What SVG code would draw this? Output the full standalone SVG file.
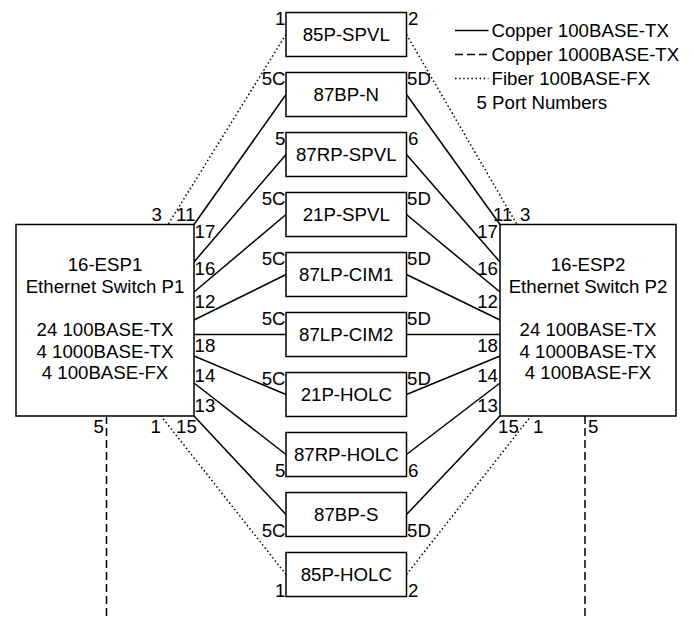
<svg xmlns="http://www.w3.org/2000/svg" width="694" height="620" viewBox="0 0 694 620">
<style>
.b{fill:#fff;stroke:#000;stroke-width:1.5}
.t{font-family:"Liberation Sans",Arial,sans-serif;font-size:18.67px;fill:#000}
.m{text-anchor:middle}
.e{text-anchor:end}
.c{stroke:#000;stroke-width:1.5;fill:none}
.d{stroke:#000;stroke-width:1.5;fill:none;stroke-dasharray:8 4}
.f{stroke:#000;stroke-width:1.5;fill:none;stroke-dasharray:1.5 2.6}
</style>
<rect width="694" height="620" fill="#fff"/>
<g id="connectors">
  <line class="f" x1="286" y1="34.5" x2="168" y2="224.5"/>
  <line class="f" x1="406.5" y1="34.5" x2="517" y2="224.5"/>
  <line class="c" x1="286" y1="94.5" x2="194" y2="224.5"/>
  <line class="c" x1="406.5" y1="94.5" x2="500" y2="224.5"/>
  <line class="c" x1="286" y1="154.5" x2="194" y2="262"/>
  <line class="c" x1="406.5" y1="154.5" x2="500" y2="262"/>
  <line class="c" x1="286" y1="214.5" x2="194" y2="292"/>
  <line class="c" x1="406.5" y1="214.5" x2="500" y2="292"/>
  <line class="c" x1="286" y1="274.5" x2="194" y2="320"/>
  <line class="c" x1="406.5" y1="274.5" x2="500" y2="320"/>
  <line class="c" x1="286" y1="334.5" x2="194" y2="334.5"/>
  <line class="c" x1="406.5" y1="334.5" x2="500" y2="334.5"/>
  <line class="c" x1="286" y1="394.5" x2="194" y2="356"/>
  <line class="c" x1="406.5" y1="394.5" x2="500" y2="356"/>
  <line class="c" x1="286" y1="454.5" x2="194" y2="383"/>
  <line class="c" x1="406.5" y1="454.5" x2="500" y2="383"/>
  <line class="c" x1="286" y1="514.5" x2="194" y2="416"/>
  <line class="c" x1="406.5" y1="514.5" x2="500" y2="416"/>
  <line class="f" x1="286" y1="574.5" x2="161" y2="416"/>
  <line class="f" x1="406.5" y1="574.5" x2="531" y2="416"/>
  <line class="d" x1="106.5" y1="416" x2="106.5" y2="620"/>
  <line class="d" x1="585" y1="416" x2="585" y2="620"/>
</g>
<g id="sw1">
  <rect class="b" x="16" y="224.5" width="178" height="191.5"/>
  <text class="t m" x="105" y="271">16-ESP1</text>
  <text class="t m" x="105" y="292.5">Ethernet Switch P1</text>
  <text class="t m" x="105" y="336">24 100BASE-TX</text>
  <text class="t m" x="105" y="357.5">4 1000BASE-TX</text>
  <text class="t m" x="105" y="379">4 100BASE-FX</text>
</g>
<g id="sw2">
  <rect class="b" x="500" y="224.5" width="176" height="191.5"/>
  <text class="t m" x="588" y="271">16-ESP2</text>
  <text class="t m" x="588" y="292.5">Ethernet Switch P2</text>
  <text class="t m" x="588" y="336">24 100BASE-TX</text>
  <text class="t m" x="588" y="357.5">4 1000BASE-TX</text>
  <text class="t m" x="588" y="379">4 100BASE-FX</text>
</g>
<g id="n85P-SPVL"><rect class="b" x="286" y="12.5" width="120.5" height="44"/><text class="t m" x="346.25" y="41.2">85P-SPVL</text></g>
<g id="n87BP-N"><rect class="b" x="286" y="72.5" width="120.5" height="44"/><text class="t m" x="346.25" y="101.2">87BP-N</text></g>
<g id="n87RP-SPVL"><rect class="b" x="286" y="132.5" width="120.5" height="44"/><text class="t m" x="346.25" y="161.2">87RP-SPVL</text></g>
<g id="n21P-SPVL"><rect class="b" x="286" y="192.5" width="120.5" height="44"/><text class="t m" x="346.25" y="221.2">21P-SPVL</text></g>
<g id="n87LP-CIM1"><rect class="b" x="286" y="252.5" width="120.5" height="44"/><text class="t m" x="346.25" y="281.2">87LP-CIM1</text></g>
<g id="n87LP-CIM2"><rect class="b" x="286" y="312.5" width="120.5" height="44"/><text class="t m" x="346.25" y="341.2">87LP-CIM2</text></g>
<g id="n21P-HOLC"><rect class="b" x="286" y="372.5" width="120.5" height="44"/><text class="t m" x="346.25" y="401.2">21P-HOLC</text></g>
<g id="n87RP-HOLC"><rect class="b" x="286" y="432.5" width="120.5" height="44"/><text class="t m" x="346.25" y="461.2">87RP-HOLC</text></g>
<g id="n87BP-S"><rect class="b" x="286" y="492.5" width="120.5" height="44"/><text class="t m" x="346.25" y="521.2">87BP-S</text></g>
<g id="n85P-HOLC"><rect class="b" x="286" y="552.5" width="120.5" height="44"/><text class="t m" x="346.25" y="581.2">85P-HOLC</text></g>
<g id="ports">
  <text class="t e" x="285.5" y="25">1</text>
  <text class="t" x="408" y="25">2</text>
  <text class="t e" x="285.5" y="85">5C</text>
  <text class="t" x="407" y="85">5D</text>
  <text class="t e" x="285.5" y="145">5</text>
  <text class="t" x="408" y="145">6</text>
  <text class="t e" x="285.5" y="205">5C</text>
  <text class="t" x="407" y="205">5D</text>
  <text class="t e" x="285.5" y="265">5C</text>
  <text class="t" x="407" y="265">5D</text>
  <text class="t e" x="285.5" y="325">5C</text>
  <text class="t" x="407" y="325">5D</text>
  <text class="t e" x="285.5" y="385">5C</text>
  <text class="t" x="407" y="385">5D</text>
  <text class="t e" x="285.5" y="476.5">5</text>
  <text class="t" x="408" y="476.5">6</text>
  <text class="t e" x="285.5" y="536.5">5C</text>
  <text class="t" x="407" y="536.5">5D</text>
  <text class="t e" x="285.5" y="596.5">1</text>
  <text class="t" x="408" y="596.5">2</text>
  <text class="t e" x="162" y="220.5">3</text>
  <text class="t" x="176" y="220.5">11</text>
  <text class="t" x="194.5" y="238">17</text>
  <text class="t" x="194.5" y="275">16</text>
  <text class="t" x="194.5" y="308">12</text>
  <text class="t" x="194.5" y="352">18</text>
  <text class="t" x="194.5" y="382">14</text>
  <text class="t" x="194.5" y="412">13</text>
  <text class="t e" x="104" y="433">5</text>
  <text class="t e" x="161" y="433">1</text>
  <text class="t" x="176" y="433">15</text>
  <text class="t" x="493" y="220.5">11</text>
  <text class="t" x="520" y="220.5">3</text>
  <text class="t e" x="498" y="238">17</text>
  <text class="t e" x="498" y="275">16</text>
  <text class="t e" x="498" y="308">12</text>
  <text class="t e" x="498" y="352">18</text>
  <text class="t e" x="498" y="382">14</text>
  <text class="t e" x="498" y="412">13</text>
  <text class="t" x="498" y="433">15</text>
  <text class="t" x="533" y="433">1</text>
  <text class="t" x="588" y="433">5</text>
</g>
<g id="legend">
  <line class="c" x1="455" y1="30.5" x2="488.5" y2="30.5"/>
  <line class="d" x1="455" y1="54.5" x2="488.5" y2="54.5"/>
  <line class="f" x1="455" y1="78.5" x2="488.5" y2="78.5"/>
  <text class="t" x="491.5" y="36.5">Copper 100BASE-TX</text>
  <text class="t" x="491.5" y="60.5">Copper 1000BASE-TX</text>
  <text class="t" x="491.5" y="84.5">Fiber 100BASE-FX</text>
  <text class="t" x="476.5" y="108.5">5 Port Numbers</text>
</g>
</svg>
